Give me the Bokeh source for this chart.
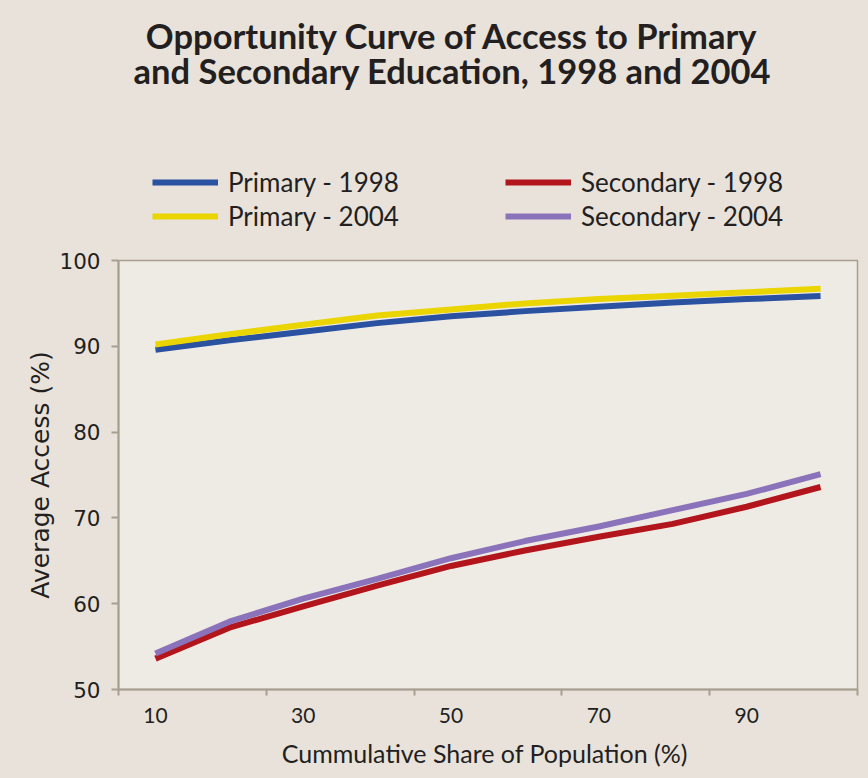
from bokeh.plotting import figure
from bokeh.models import (Legend, LegendItem, Label, FixedTicker, Range1d)
from bokeh.layouts import column
from bokeh.embed import file_html
from bokeh.resources import INLINE

# ---- data ----
share = [10, 20, 30, 40, 50, 60, 70, 80, 90, 100]
primary_1998 = [89.6, 90.7, 91.7, 92.7, 93.5, 94.1, 94.6, 95.1, 95.5, 95.85]
primary_2004 = [90.2, 91.4, 92.5, 93.6, 94.3, 95.0, 95.5, 95.9, 96.3, 96.7]
secondary_1998 = [53.6, 57.2, 59.7, 62.1, 64.4, 66.2, 67.8, 69.3, 71.3, 73.6]
secondary_2004 = [54.2, 57.9, 60.6, 62.9, 65.3, 67.3, 69.0, 70.9, 72.8, 75.1]
x_labels = [10, 30, 50, 70, 90]
x_bounds = [5, 25, 45, 65, 85, 105]
y_ticks = [50, 60, 70, 80, 90, 100]

title_line1 = "Opportunity Curve of Access to Primary"
title_line2 = "and Secondary Education, 1998 and 2004"
x_title = "Cummulative Share of  Population (%)"
y_title = "Average Access (%)"
series_names = ["Primary - 1998", "Primary - 2004", "Secondary - 1998", "Secondary - 2004"]
series_values = [primary_1998, primary_2004, secondary_1998, secondary_2004]

BLUE = "#2b51a1"
YELLOW = "#ead500"
RED = "#b2161c"
PURPLE = "#8a73ba"
AXIS = "#a69f90"
TEXT = "#231f20"
BG = "#e8e2db"
PLOT_BG = "#eeeae4"
colors = [BLUE, YELLOW, RED, PURPLE]

W = 868
HEADER_H = 246
MAIN_H = 532

# ---- header: title + legend (its frame is aligned with the chart's frame) ----
header = figure(width=W, height=HEADER_H, output_backend="svg", toolbar_location=None,
                title=None, x_range=Range1d(0, 1), y_range=Range1d(0, 1),
                x_axis_location=None, y_axis_location=None,
                min_border_left=118, min_border_right=11, min_border_top=0,
                min_border_bottom=0,
                outline_line_color=None, background_fill_color=None,
                border_fill_color=BG)
header.grid.visible = False

for txt, yy in [(title_line1, 211), (title_line2, 176)]:
    header.add_layout(Label(x=334, y=yy, x_units="screen", y_units="screen",
                            text=txt, text_align="center",
                            text_baseline="alphabetic", text_font="Lato",
                            text_font_style="bold", text_font_size="34.5px",
                            text_color=TEXT))

# legend proxies: the series drawn in the header's (0..1) ranges fall outside its frame
legend_items = []
for name, col, vals in zip(series_names, colors, series_values):
    r = header.line(share, vals, line_color=col, line_width=6)
    legend_items.append(LegendItem(label=name, renderers=[r]))

legend = Legend(items=legend_items, ncols=2, location=(34, 14), margin=0,
                padding=0, spacing=2, glyph_width=66, glyph_height=30,
                label_height=30, label_width=275, label_standoff=10,
                label_text_font="Lato", label_text_font_size="26px",
                label_text_color=TEXT, background_fill_alpha=0,
                border_line_alpha=0)
header.add_layout(legend, "center")

# ---- main chart ----
p = figure(width=W, height=MAIN_H, output_backend="svg", toolbar_location=None,
           title=None, x_range=Range1d(5, 105), y_range=Range1d(50, 100),
           min_border_left=118, min_border_right=11, min_border_bottom=89,
           min_border_top=14,
           background_fill_color=PLOT_BG, border_fill_color=BG,
           outline_line_color=AXIS, outline_line_width=1.5)
p.grid.visible = False

p.line(share, primary_1998, line_color=BLUE, line_width=6)
p.line(share, primary_2004, line_color=YELLOW, line_width=6)
p.line(share, secondary_1998, line_color=RED, line_width=6)
p.line(share, secondary_2004, line_color=PURPLE, line_width=6)

xa = p.xaxis[0]
xa.ticker = FixedTicker(ticks=x_labels, minor_ticks=x_bounds)
xa.major_tick_out = 0
xa.major_tick_in = 0
xa.minor_tick_out = 6
xa.minor_tick_in = 0
xa.minor_tick_line_color = AXIS
xa.minor_tick_line_width = 2
xa.axis_line_color = AXIS
xa.axis_line_width = 2
xa.major_label_standoff = 12
xa.major_label_text_font = "Lato"
xa.major_label_text_font_size = "21px"
xa.major_label_text_color = TEXT
xa.axis_label = x_title
xa.axis_label_text_font = "Lato"
xa.axis_label_text_font_style = "normal"
xa.axis_label_text_font_size = "25px"
xa.axis_label_text_color = TEXT
xa.axis_label_standoff = 12

ya = p.yaxis[0]
ya.ticker = FixedTicker(ticks=y_ticks, minor_ticks=[])
ya.major_tick_out = 7
ya.major_tick_in = 0
ya.major_tick_line_color = AXIS
ya.major_tick_line_width = 2
ya.axis_line_color = AXIS
ya.axis_line_width = 2
ya.major_label_standoff = 11
ya.major_label_text_font = "DejaVu Sans"
ya.major_label_text_font_size = "21.5px"
ya.major_label_text_color = TEXT
ya.axis_label = y_title
ya.axis_label_text_font = "DejaVu Sans"
ya.axis_label_text_font_style = "normal"
ya.axis_label_text_font_size = "25px"
ya.axis_label_text_color = TEXT
ya.axis_label_standoff = 1

layout = column(header, p, spacing=0, styles={"background-color": BG})
open("out.html", "w").write(file_html(layout, INLINE))
